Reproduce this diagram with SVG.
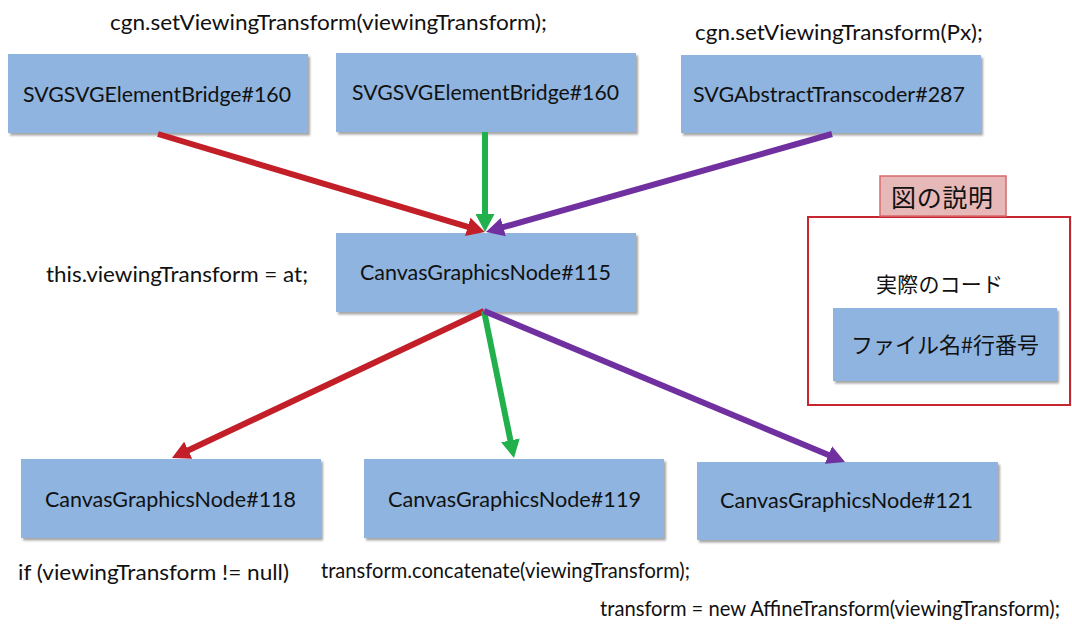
<svg xmlns="http://www.w3.org/2000/svg" width="1072" height="627" viewBox="0 0 1072 627">
  <style>
    .box { fill: #8EB4DF; filter: url(#shadow); }
    .lbl { font-family: Lato, "Liberation Sans", sans-serif; font-size: 21px; fill: #111; }
    .code { font-family: Lato, "Liberation Sans", sans-serif; font-size: 21px; fill: #111; }
    .jp { font-family: "Noto Sans CJK JP", sans-serif; fill: #111; }
    .edge { fill: none; stroke-width: 6; stroke-linecap: butt; }
    .red { stroke: #C21F29; }
    .green { stroke: #21B04B; }
    .purple { stroke: #7030A0; }
  </style>
  <defs>
    <filter id="shadow" x="-5%" y="-5%" width="115%" height="120%">
      <feDropShadow dx="2" dy="2.5" stdDeviation="1.2" flood-color="#000" flood-opacity="0.35"/>
    </filter>
    <marker id="head-red" viewBox="0 0 18 19" refX="8" refY="9.5" markerWidth="18" markerHeight="19" markerUnits="userSpaceOnUse" orient="auto">
      <path d="M0,0 L18,9.5 L0,19 z" fill="#C21F29"/>
    </marker>
    <marker id="head-green" viewBox="0 0 18 19" refX="8" refY="9.5" markerWidth="18" markerHeight="19" markerUnits="userSpaceOnUse" orient="auto">
      <path d="M0,0 L18,9.5 L0,19 z" fill="#21B04B"/>
    </marker>
    <marker id="head-purple" viewBox="0 0 18 19" refX="8" refY="9.5" markerWidth="18" markerHeight="19" markerUnits="userSpaceOnUse" orient="auto">
      <path d="M0,0 L18,9.5 L0,19 z" fill="#7030A0"/>
    </marker>
  </defs>

  <rect width="1072" height="627" fill="#fff"/>

  <!-- code snippets -->
  <g id="snippets">
    <text class="code" x="110" y="30" textLength="437" lengthAdjust="spacingAndGlyphs">cgn.setViewingTransform(viewingTransform);</text>
    <text class="code" x="695" y="40" textLength="288" lengthAdjust="spacingAndGlyphs">cgn.setViewingTransform(Px);</text>
    <text class="code" x="46" y="282" textLength="262" lengthAdjust="spacingAndGlyphs">this.viewingTransform = at;</text>
    <text class="code" x="18" y="580" textLength="271" lengthAdjust="spacingAndGlyphs">if (viewingTransform != null)</text>
    <text class="code" x="321" y="578" font-size="19" textLength="369" lengthAdjust="spacingAndGlyphs">transform.concatenate(viewingTransform);</text>
    <text class="code" x="600" y="616" font-size="19" textLength="460" lengthAdjust="spacingAndGlyphs">transform = new AffineTransform(viewingTransform);</text>
  </g>

  <!-- nodes -->
  <g id="bridge-160-a">
    <rect class="box" x="8" y="54" width="300" height="79"/>
    <text class="lbl" x="23" y="102" textLength="268" lengthAdjust="spacingAndGlyphs">SVGSVGElementBridge#160</text>
  </g>
  <g id="bridge-160-b">
    <rect class="box" x="336" y="53" width="300" height="79"/>
    <text class="lbl" x="352" y="100" textLength="267" lengthAdjust="spacingAndGlyphs">SVGSVGElementBridge#160</text>
  </g>
  <g id="transcoder-287">
    <rect class="box" x="681" y="55" width="300" height="78"/>
    <text class="lbl" x="693" y="102" textLength="272" lengthAdjust="spacingAndGlyphs">SVGAbstractTranscoder#287</text>
  </g>
  <g id="node-115">
    <rect class="box" x="336" y="233" width="300" height="79"/>
    <text class="lbl" x="360" y="280" textLength="251" lengthAdjust="spacingAndGlyphs">CanvasGraphicsNode#115</text>
  </g>
  <g id="node-118">
    <rect class="box" x="21" y="459" width="300" height="79"/>
    <text class="lbl" x="45" y="507" textLength="251" lengthAdjust="spacingAndGlyphs">CanvasGraphicsNode#118</text>
  </g>
  <g id="node-119">
    <rect class="box" x="364" y="459" width="300" height="79"/>
    <text class="lbl" x="388" y="507" textLength="253" lengthAdjust="spacingAndGlyphs">CanvasGraphicsNode#119</text>
  </g>
  <g id="node-121">
    <rect class="box" x="697" y="462" width="301" height="78"/>
    <text class="lbl" x="720" y="508" textLength="253" lengthAdjust="spacingAndGlyphs">CanvasGraphicsNode#121</text>
  </g>

  <!-- connectors -->
  <g id="connectors">
    <line class="edge red" x1="158" y1="134" x2="475.4" y2="229.1" marker-end="url(#head-red)"/>
    <line class="edge green" x1="485" y1="132" x2="485" y2="222" marker-end="url(#head-green)"/>
    <line class="edge purple" x1="832" y1="134" x2="495.6" y2="229.3" marker-end="url(#head-purple)"/>
    <line class="edge red" x1="484" y1="311" x2="181" y2="453.7" stroke-linecap="round" marker-end="url(#head-red)"/>
    <line class="edge green" x1="484" y1="311" x2="512" y2="448.2" stroke-linecap="round" marker-end="url(#head-green)"/>
    <line class="edge purple" x1="484" y1="311" x2="835.8" y2="458.1" stroke-linecap="round" marker-end="url(#head-purple)"/>
  </g>

  <!-- legend -->
  <g id="legend">
    <rect x="808" y="217" width="262" height="188" fill="#fff" stroke="#C8262E" stroke-width="2"/>
    <rect x="880" y="176" width="126" height="40" fill="#E6B8B7" stroke="#D9696E" stroke-width="1.5"/>
    <text class="jp" x="891" y="207" font-size="25" textLength="102">図の説明</text>
    <text class="jp" x="876" y="292" font-size="21" textLength="127">実際のコード</text>
    <rect class="box" x="833" y="308" width="224" height="73"/>
    <text class="jp" x="851" y="353" font-size="22" textLength="188">ファイル名#行番号</text>
  </g>
</svg>
